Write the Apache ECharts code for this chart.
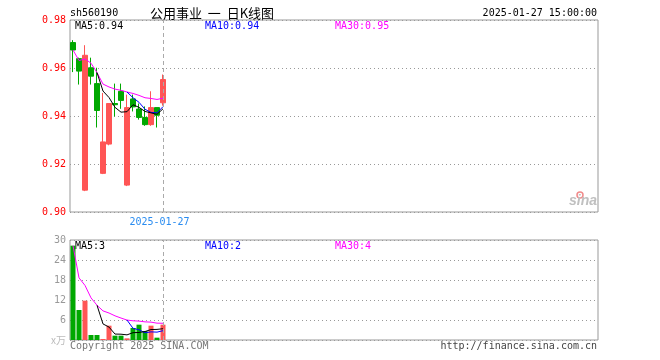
<!DOCTYPE html>
<html>
<head>
<meta charset="utf-8">
<script src="https://cdn.jsdelivr.net/npm/echarts@6/dist/echarts.min.js"></script>
<style>html,body{margin:0;padding:0;background:#fff}#c{width:660px;height:360px}</style>
</head>
<body>
<div id="c"></div>
<script>
// ---- data ----
const dates = ['2025-01-06','2025-01-07','2025-01-08','2025-01-09','2025-01-10','2025-01-13','2025-01-14','2025-01-15','2025-01-16','2025-01-17','2025-01-20','2025-01-21','2025-01-22','2025-01-23','2025-01-24','2025-01-27'];
const open  = [0.9706,0.9639,0.9091,0.9601,0.9535,0.9161,0.9283,0.9452,0.9503,0.9112,0.9471,0.9429,0.9394,0.9364,0.9435,0.9455];
const close = [0.9675,0.9587,0.9653,0.9566,0.9423,0.9292,0.9452,0.9447,0.9465,0.9435,0.9438,0.9394,0.9364,0.9435,0.9403,0.9552];
const low   = [0.9583,0.9531,0.9087,0.9531,0.9352,0.9158,0.9278,0.9398,0.9430,0.9108,0.9419,0.9385,0.9359,0.9359,0.9352,0.9443];
const high  = [0.9716,0.9643,0.9695,0.9643,0.9601,0.9496,0.9452,0.9535,0.9535,0.9489,0.9489,0.9452,0.9440,0.9503,0.9435,0.9573];
const ma5   = [null,null,null,null,0.9581,0.9504,0.9477,0.9436,0.9416,0.9418,0.9447,0.9436,0.9419,0.9413,0.9407,0.9430];
const ma10  = [null,null,null,null,null,null,null,null,null,0.9500,0.9476,0.9457,0.9428,0.9415,0.9413,0.9439];
const ma30  = [0.9675,0.9631,0.9638,0.9620,0.9581,0.9533,0.9521,0.9512,0.9507,0.9500,0.9494,0.9486,0.9476,0.9473,0.9469,0.9474];
const volume = [28.3,9.0,11.8,1.5,1.5,0.3,4.3,1.3,1.3,0.5,3.6,4.6,2.7,4.3,0.7,4.6];
const volMa5  = [null,null,null,null,10.42,4.82,3.88,1.78,1.74,1.54,2.20,2.26,2.54,3.14,3.18,3.38];
const volMa10 = [null,null,null,null,null,null,null,null,null,5.98,3.51,3.07,2.16,2.44,2.36,2.79];
const volMa30 = [28.3,18.65,16.37,12.65,10.42,8.73,8.10,7.25,6.59,5.98,5.76,5.67,5.44,5.36,5.05,5.02];
const priceTicks = [0.90,0.92,0.94,0.96,0.98];
const volTicks = [6,12,18,24,30];
const totalSlots = 88;

// ---- build ----
const cats = dates.slice();
for (let i = dates.length; i < totalSlots; i++) cats.push('_' + i);
const lastIdx = dates.length - 1;
const candleData = dates.map((d, i) => [open[i], close[i], low[i], high[i]]);
const RED = '#ff5555', GREEN = '#00a800';
const volData = volume.map((v, i) => ({value: v, itemStyle: {color: close[i] >= open[i] ? RED : GREEN}}));
const MONO = 'DejaVu Sans Mono';

const chart = echarts.init(document.getElementById('c'), null, {renderer: 'canvas'});
const dashLine = {
  symbol: ['none','none'], silent: true, label: {show: false},
  lineStyle: {type: [4,3], color: '#aaa', width: 1},
  data: [{xAxis: dates[lastIdx]}]
};
function txt(x, y, text, fill, font, align) {
  return {type: 'text', x: x, y: y, silent: true,
    style: {text: text, fill: fill, font: font, align: align || 'left', verticalAlign: 'middle'}};
}
chart.setOption({
  animation: false,
  backgroundColor: '#fff',
  grid: [
    {left: 70, top: 20, width: 528, height: 192, show: true, borderColor: '#999', borderWidth: 1},
    {left: 70, top: 240, width: 528, height: 100, show: true, borderColor: '#999', borderWidth: 1}
  ],
  xAxis: [
    {type: 'category', gridIndex: 0, data: cats, boundaryGap: true,
     axisLine: {show: false}, axisTick: {show: false}, splitLine: {show: false},
     axisLabel: {interval: (i) => i === lastIdx, color: '#2a8cf0', fontFamily: MONO, fontSize: 10, margin: 5,
       padding: [0, 7, 0, 0], formatter: (v, i) => i === lastIdx ? v : ''}},
    {type: 'category', gridIndex: 1, data: cats, boundaryGap: true,
     axisLine: {show: false}, axisTick: {show: false}, splitLine: {show: false}, axisLabel: {show: false}}
  ],
  yAxis: [
    {type: 'value', gridIndex: 0, min: priceTicks[0], max: priceTicks[priceTicks.length-1], interval: 0.02,
     axisLine: {show: false}, axisTick: {show: false},
     axisLabel: {color: '#ff0000', fontFamily: MONO, fontSize: 10, margin: 4, formatter: v => v.toFixed(2)},
     splitLine: {lineStyle: {type: [1,3], color: '#999'}}},
    {type: 'value', gridIndex: 1, min: 0, max: volTicks[volTicks.length-1], interval: 6,
     axisLine: {show: false}, axisTick: {show: false},
     axisLabel: {color: '#999', fontFamily: MONO, fontSize: 10, margin: 4, formatter: v => v === 0 ? '' : String(v)},
     splitLine: {lineStyle: {type: [1,3], color: '#999'}}}
  ],
  series: [
    {type: 'candlestick', xAxisIndex: 0, yAxisIndex: 0, data: candleData, barWidth: 5,
     itemStyle: {color: RED, color0: GREEN, borderColor: RED, borderColor0: GREEN, borderWidth: 1},
     markLine: dashLine},
    {type: 'line', xAxisIndex: 0, yAxisIndex: 0, data: ma30, symbol: 'none', lineStyle: {color: '#ff00ff', width: 1}},
    {type: 'line', xAxisIndex: 0, yAxisIndex: 0, data: ma10, symbol: 'none', lineStyle: {color: '#0000ff', width: 1}},
    {type: 'line', xAxisIndex: 0, yAxisIndex: 0, data: ma5, symbol: 'none', lineStyle: {color: '#000', width: 1}},
    {type: 'bar', xAxisIndex: 1, yAxisIndex: 1, data: volData, barWidth: 5, markLine: dashLine},
    {type: 'line', xAxisIndex: 1, yAxisIndex: 1, data: volMa30, symbol: 'none', lineStyle: {color: '#ff00ff', width: 1}},
    {type: 'line', xAxisIndex: 1, yAxisIndex: 1, data: volMa10, symbol: 'none', lineStyle: {color: '#0000ff', width: 1}},
    {type: 'line', xAxisIndex: 1, yAxisIndex: 1, data: volMa5, symbol: 'none', lineStyle: {color: '#000', width: 1}}
  ],
  graphic: [
    txt(70, 13, 'sh560190', '#000', '10px ' + MONO),
    txt(150, 13, '公用事业  一  日K线图', '#000', '13px "Noto Sans CJK SC"'),
    txt(597, 13, '2025-01-27 15:00:00', '#000', '10px ' + MONO, 'right'),
    txt(75, 26, 'MA5:' + ma5[lastIdx].toFixed(2), '#000', '10px ' + MONO),
    txt(205, 26, 'MA10:' + ma10[lastIdx].toFixed(2), '#0000ff', '10px ' + MONO),
    txt(335, 26, 'MA30:' + ma30[lastIdx].toFixed(2), '#ff00ff', '10px ' + MONO),
    txt(75, 246, 'MA5:3', '#000', '10px ' + MONO),
    txt(205, 246, 'MA10:2', '#0000ff', '10px ' + MONO),
    txt(335, 246, 'MA30:4', '#ff00ff', '10px ' + MONO),
    txt(66, 340, 'x万', '#bbb', '10px "Noto Sans CJK SC"', 'right'),
    txt(70, 346, 'Copyright 2025 SINA.COM', '#777', '10px ' + MONO),
    txt(597, 346, 'http://finance.sina.com.cn', '#444', '10px ' + MONO, 'right'),
    {type: 'circle', silent: true, shape: {cx: 580, cy: 195, r: 3}, style: {fill: 'none', stroke: '#f08a8a', lineWidth: 1.5}},
    txt(597, 201, 'sina', '#c0c0c0', 'italic bold 14px "Liberation Sans"', 'right')
  ]
});
</script>
</body>
</html>
